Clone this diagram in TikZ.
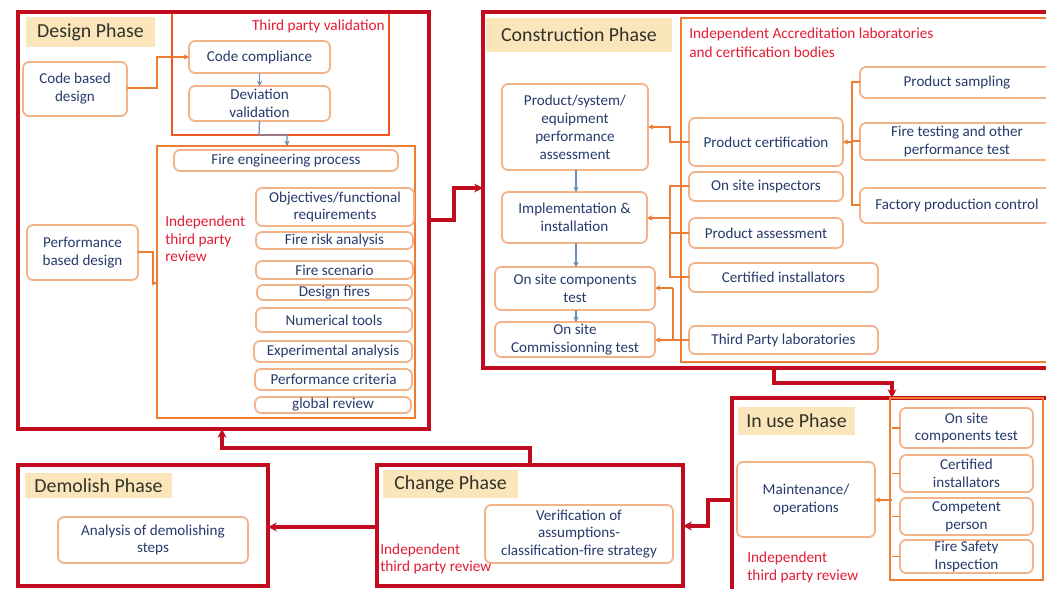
\documentclass[tikz,border=0pt]{standalone}
\usepackage{fontspec}
\setmainfont{Carlito}
\usetikzlibrary{arrows.meta}
\definecolor{dred}{RGB}{192,12,30}
\definecolor{orng}{RGB}{237,125,49}
\definecolor{lorng}{RGB}{243,178,135}
\definecolor{beige}{RGB}{251,230,188}
\definecolor{navy}{RGB}{38,58,108}
\definecolor{lbltext}{RGB}{50,50,40}
\definecolor{rtxt}{RGB}{228,28,52}
\definecolor{gblue}{RGB}{110,140,180}
\newcommand{\bx}[7]{\node[#1, minimum width={(#5-#3)*0.02cm}, minimum height={(#6-#4)*0.02cm}] (#2) at ({(#3+#5)/2},{(#4+#6)/2}) {#7};}
\begin{document}
\begin{tikzpicture}[x=0.02cm,y=-0.02cm,
  phase/.style={draw=dred, line width=2pt, inner sep=0pt, outer sep=0pt},
  grp/.style={draw=orng, line width=1.3pt, inner sep=0pt, outer sep=0pt},
  tpv/.style={draw=orng!70!red, line width=1.6pt, inner sep=0pt, outer sep=0pt},
  sbox/.style={draw=lorng, line width=1pt, rounded corners=3.5pt, fill=white, text=navy,
     font=\fontsize{8.6}{10.2}\selectfont, align=center, inner sep=0pt, outer sep=0pt},
  lbl/.style={fill=beige, text=lbltext, font=\fontsize{11.3}{13}\selectfont, inner sep=0pt, outer sep=0pt},
  redtxt/.style={text=rtxt, font=\fontsize{8.7}{10}\selectfont, align=left, inner sep=0pt},
  conn/.style={draw=orng, line width=0.7pt, -{Stealth[length=3pt,width=3pt]}},
  plain/.style={draw=orng, line width=0.7pt},
  vconn/.style={draw=gblue, line width=0.7pt, -{Stealth[length=3pt,width=3pt]}},
  bigconn/.style={draw=dred, line width=2pt, -{Stealth[length=5pt,width=5pt]}}]
\useasboundingbox (0,0) rectangle (1046,589);
\clip (0,0) rectangle (1046,589);
\fill[white] (0,0) rectangle (1046,589);

% ---------------- Design phase ----------------
\bx{tpv}{TPV}{172}{12}{389}{135}{}
\bx{phase}{D}{18}{12}{429}{429}{}
\bx{lbl}{DL}{26}{17}{155}{47}{Design Phase}
\node[redtxt, anchor=east] (TPVt) at (385,26) {Third party validation};
\bx{sbox}{CC}{189}{41}{330}{73}{Code compliance}
\bx{sbox}{DV}{189}{86}{330}{121}{Deviation\\validation}
\bx{sbox}{CBD}{23}{62}{127}{116}{Code based\\design}
\bx{grp}{RV}{157}{146}{415}{418}{}
\bx{sbox}{FEP}{174}{150}{398}{171}{Fire engineering process}
\node[redtxt, anchor=west] (RVt) at (165,239) {Independent\\third party\\review};
\bx{sbox}{OBJ}{256}{188}{414}{226}{Objectives/functional\\requirements}
\bx{sbox}{FRA}{256}{232}{413}{249}{Fire risk analysis}
\bx{sbox}{FS}{256}{261}{413}{279}{Fire scenario}
\bx{sbox}{DF}{257}{285}{412}{300}{Design fires}
\bx{sbox}{NT}{256}{308}{412}{332}{Numerical tools}
\bx{sbox}{EA}{254}{341}{412}{362}{Experimental analysis}
\bx{sbox}{PC2}{255}{369}{412}{390}{Performance criteria}
\bx{sbox}{GR}{255}{397}{411}{413}{global review}
\bx{sbox}{PBD}{27}{225}{138}{280}{Performance\\based design}

\draw[vconn] (CC.south) -- (DV.north);
\draw[conn] (CBD.east |- 0,88) -- (157,88) -- (157,57) -- (CC.west |- 0,57);
\draw[vconn] (DV.south) -- (259,135) -- (287,135) -- (RV.north -| 287,0);
\draw[conn] (PBD.east |- 0,252) -- (153,252) -- (153,283) -- (RV.west |- 0,283);

% ---------------- Construction phase ----------------
\bx{phase}{C}{483}{12}{1060}{368}{}
\bx{lbl}{CL}{486}{18}{672}{52}{Construction Phase}
\bx{grp}{AC}{681}{18}{1060}{362}{}
\node[redtxt, anchor=west, font=\fontsize{8.7}{11}\selectfont] (ACt) at (689,42.5) {Independent Accreditation laboratories\\and certification bodies};
\bx{sbox}{PSE}{502}{84}{648}{170}{Product/system/\\equipment\\performance\\assessment}
\bx{sbox}{II}{502}{192}{647}{243}{Implementation \&\\installation}
\bx{sbox}{OSC}{495}{267}{655}{310}{On site components\\test}
\bx{sbox}{COM}{495}{322}{655}{357}{On site\\Commissionning test}
\bx{sbox}{PCe}{689}{118}{843}{166}{Product certification}
\bx{sbox}{OSI}{689}{172}{843}{201}{On site inspectors}
\bx{sbox}{PA}{689}{218}{843}{248}{Product assessment}
\bx{sbox}{CI}{689}{263}{878}{292}{Certified installators}
\bx{sbox}{TPL}{689}{326}{878}{354}{Third Party laboratories}
\bx{sbox}{PS}{860}{67}{1054}{98}{Product sampling}
\bx{sbox}{FT}{860}{123}{1054}{160}{Fire testing and other\\performance test}
\bx{sbox}{FPC}{860}{188}{1054}{223}{Factory production control}

\draw[conn] (PCe.west |- 0,142) -- (670,142) -- (670,127) -- (PSE.east |- 0,127);
\draw[plain] (PS.west |- 0,82) -- (852,82) -- (852,205) -- (FPC.west |- 0,205);
\draw[plain] (FT.west |- 0,141) -- (852,141);
\draw[conn] (852,142) -- (PCe.east |- 0,142);
\draw[vconn] (PSE.south -| 576,0) -- (II.north -| 576,0);
\draw[vconn] (II.south -| 576,0) -- (OSC.north -| 576,0);
\draw[vconn] (OSC.south -| 576,0) -- (COM.north -| 576,0);
\draw[plain] (OSI.west |- 0,186) -- (670,186) -- (670,277) -- (CI.west |- 0,277);
\draw[plain] (PA.west |- 0,233) -- (670,233);
\draw[conn] (670,218) -- (II.east |- 0,218);
\draw[plain] (TPL.west |- 0,340) -- (673,340) -- (673,288);
\draw[conn] (673,288) -- (OSC.east |- 0,288);
\draw[conn] (673,340) -- (COM.east |- 0,340);

% ---------------- In use phase ----------------
\bx{phase}{U}{732}{398}{1060}{610}{}
\bx{grp}{UG}{890}{398}{1043}{580}{}
\bx{lbl}{UL}{738}{407}{855}{435}{In use Phase}
\bx{sbox}{MO}{737}{462}{875}{537}{Maintenance/\\operations}
\bx{sbox}{UOS}{900}{408}{1033}{448}{On site\\components test}
\bx{sbox}{UCI}{900}{455}{1033}{492}{Certified\\installators}
\bx{sbox}{UCP}{900}{498}{1033}{535}{Competent\\person}
\bx{sbox}{UFS}{900}{540}{1033}{573}{Fire Safety\\Inspection}
\node[redtxt, anchor=west] (Ut) at (747,567.5) {Independent\\third party review};
\draw[plain] (UOS.west) -- (892,428);
\draw[plain] (UCI.west) -- (892,473.5);
\draw[plain] (UCP.west) -- (892,516.5);
\draw[plain] (UFS.west) -- (892,556.5);
\draw[conn] (892,500) -- (MO.east |- 0,500);

% ---------------- Change phase ----------------
\bx{phase}{CH}{377}{465}{683}{586}{}
\bx{lbl}{CHL}{383}{470}{518}{498}{Change Phase}
\bx{sbox}{VER}{485}{505}{673}{563}{Verification of\\assumptions-\\classification-fire strategy}
\node[redtxt, anchor=west] (CHt) at (380,559) {Independent\\third party review};

% ---------------- Demolish phase ----------------
\bx{phase}{DM}{18}{465}{268}{586}{}
\bx{lbl}{DML}{25}{473}{172}{498}{Demolish Phase}
\bx{sbox}{AD}{58}{517}{248}{563}{Analysis of demolishing\\steps}

% ---------------- Phase connectors ----------------
\draw[bigconn] (D.east |- 0,220) -- (454,220) -- (454,188) -- (C.west |- 0,188);
\draw[bigconn] (C.south -| 774,0) -- (774,383) -- (892,383) -- (U.north -| 892,0);
\draw[bigconn] (U.west |- 0,500) -- (708,500) -- (708,526) -- (CH.east |- 0,526);
\draw[bigconn] (CH.west |- 0,527) -- (DM.east |- 0,527);
\draw[bigconn] (CH.north -| 530,0) -- (530,448) -- (222,448) -- (D.south -| 222,0);
\end{tikzpicture}
\end{document}
